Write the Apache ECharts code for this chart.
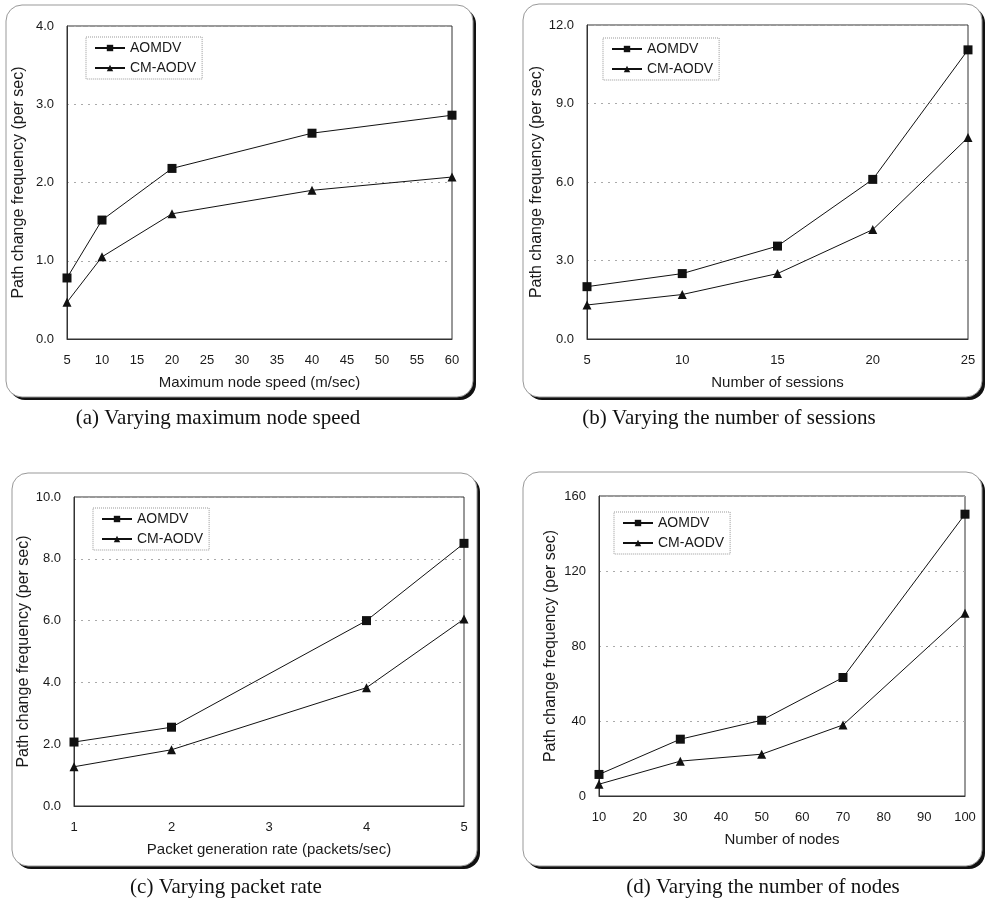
<!DOCTYPE html>
<html lang="en">
  <head>
    <meta charset="UTF-8" />
    <title>Path change frequency</title>
    <script src="https://cdnjs.cloudflare.com/ajax/libs/echarts/6.0.0/echarts.min.js"></script>
    <style>
      html, body { margin: 0; padding: 0; background: #fff; }
    </style>
  </head>
  <body>
    <div id="main" style="width: 985px; height: 904px"></div>
    <script>
      // data
      var speedX = [5, 10, 20, 40, 60];
      var speedAomdv = [0.78, 1.52, 2.18, 2.63, 2.86];
      var speedCm = [0.47, 1.05, 1.6, 1.9, 2.07];

      var sessionX = [5, 10, 15, 20, 25];
      var sessionAomdv = [2.0, 2.5, 3.55, 6.1, 11.05];
      var sessionCm = [1.3, 1.7, 2.5, 4.18, 7.7];

      var rateX = [1, 2, 4, 5];
      var rateAomdv = [2.07, 2.55, 6.0, 8.5];
      var rateCm = [1.27, 1.82, 3.83, 6.05];

      var nodeX = [10, 30, 50, 70, 100];
      var nodeAomdv = [11.5, 30.3, 40.4, 63.2, 150.3];
      var nodeCm = [6.3, 18.6, 22.3, 37.9, 97.5];

      var captions = [
        "(a) Varying maximum node speed",
        "(b) Varying the number of sessions",
        "(c) Varying packet rate",
        "(d) Varying the number of nodes",
      ];
      var xNames = [
        "Maximum node speed (m/sec)",
        "Number of sessions",
        "Packet generation rate (packets/sec)",
        "Number of nodes",
      ];
      var yName = "Path change frequency (per sec)";

      function pairs(xs, ys) {
        return xs.map(function (x, i) { return [x, ys[i]]; });
      }

      var sans = "Liberation Sans";
      var ink = "#1a1a1a";

      var grids = [
        { left: 67, top: 26, width: 385, height: 313 },
        { left: 587, top: 25, width: 381, height: 314 },
        { left: 74, top: 497, width: 390, height: 309 },
        { left: 599, top: 496, width: 366, height: 300 },
      ];
      var xRanges = [[5, 60, 5], [5, 25, 5], [1, 5, 1], [10, 100, 10]];
      var yRanges = [[0, 4, 1], [0, 12, 3], [0, 10, 2], [0, 160, 40]];
      var frames = [
        [6, 5, 467, 392],
        [523, 4, 459, 393],
        [12, 473, 465, 393],
        [523, 472, 459, 394],
      ];
      var legendPos = [[86, 37], [603, 38], [93, 508], [614, 512]];
      var capPos = [[218, 418], [729, 418], [226, 887], [763, 887]];
      var sets = [
        [speedX, speedAomdv, speedCm],
        [sessionX, sessionAomdv, sessionCm],
        [rateX, rateAomdv, rateCm],
        [nodeX, nodeAomdv, nodeCm],
      ];

      var option = {
        animation: false,
        backgroundColor: "#fff",
        grid: [],
        xAxis: [],
        yAxis: [],
        legend: [],
        series: [],
        graphic: [],
      };

      for (var i = 0; i < 4; i++) {
        var g = grids[i];
        option.grid.push({
          left: g.left, top: g.top, width: g.width, height: g.height,
          show: true, borderColor: "#333", borderWidth: 1,
          backgroundColor: "transparent",
        });
        option.xAxis.push({
          type: "value",
          gridIndex: i,
          min: xRanges[i][0],
          max: xRanges[i][1],
          interval: xRanges[i][2],
          name: xNames[i],
          nameLocation: "middle",
          nameGap: 36,
          nameTextStyle: { fontFamily: sans, fontSize: 15, color: ink },
          axisLine: { lineStyle: { color: "#333" } },
          axisTick: { show: false },
          axisLabel: { fontFamily: sans, fontSize: 13, color: ink, margin: 15 },
          splitLine: { show: false },
        });
        option.yAxis.push({
          type: "value",
          gridIndex: i,
          min: yRanges[i][0],
          max: yRanges[i][1],
          interval: yRanges[i][2],
          name: yName,
          nameLocation: "middle",
          nameGap: 40,
          nameTextStyle: { fontFamily: sans, fontSize: 16, color: ink },
          axisLine: { lineStyle: { color: "#333" } },
          axisTick: { show: false },
          axisLabel: {
            fontFamily: sans, fontSize: 13, color: ink, margin: 13,
            formatter: i == 3 ? "{value}" : function (v) { return v.toFixed(1); },
          },
          splitLine: { lineStyle: { color: "#aaa", type: [2, 5] } },
        });
        option.legend.push({
          left: legendPos[i][0],
          top: legendPos[i][1],
          orient: "vertical",
          data: ["AOMDV", "CM-AODV"],
          itemWidth: 30,
          itemHeight: 8,
          itemGap: 6,
          padding: [4, 6, 4, 8],
          borderColor: "#999",
          borderWidth: 1,
          borderType: "dotted",
          backgroundColor: "#fff",
          selectedMode: false,
          textStyle: { fontFamily: sans, fontSize: 14, color: ink },
        });
        var s = sets[i];
        option.series.push({
          name: "AOMDV", type: "line",
          xAxisIndex: i, yAxisIndex: i,
          data: pairs(s[0], s[1]),
          symbol: "rect", symbolSize: 9,
          itemStyle: { color: "#111" },
          lineStyle: { color: "#111", width: 1 },
        });
        option.series.push({
          name: "CM-AODV", type: "line",
          xAxisIndex: i, yAxisIndex: i,
          data: pairs(s[0], s[2]),
          symbol: "triangle", symbolSize: 9,
          itemStyle: { color: "#111" },
          lineStyle: { color: "#111", width: 1 },
        });

        // panel frame: dark offset rect behind a white rounded box
        var f = frames[i];
        option.graphic.push({
          type: "rect", z: -20,
          shape: { x: f[0] + 3, y: f[1] + 3, width: f[2], height: f[3], r: 16 },
          style: { fill: "#111" },
        });
        option.graphic.push({
          type: "rect", z: -19,
          shape: { x: f[0], y: f[1], width: f[2], height: f[3], r: 16 },
          style: { fill: "#fff", stroke: "#999", lineWidth: 1 },
        });
        option.graphic.push({
          type: "text",
          x: capPos[i][0], y: capPos[i][1],
          style: {
            text: captions[i],
            fontFamily: "Liberation Serif",
            fontSize: 21,
            fill: "#111",
            align: "center",
            verticalAlign: "middle",
          },
        });
      }

      var myChart = echarts.init(document.getElementById("main"));
      myChart.setOption(option);
    </script>
  </body>
</html>
